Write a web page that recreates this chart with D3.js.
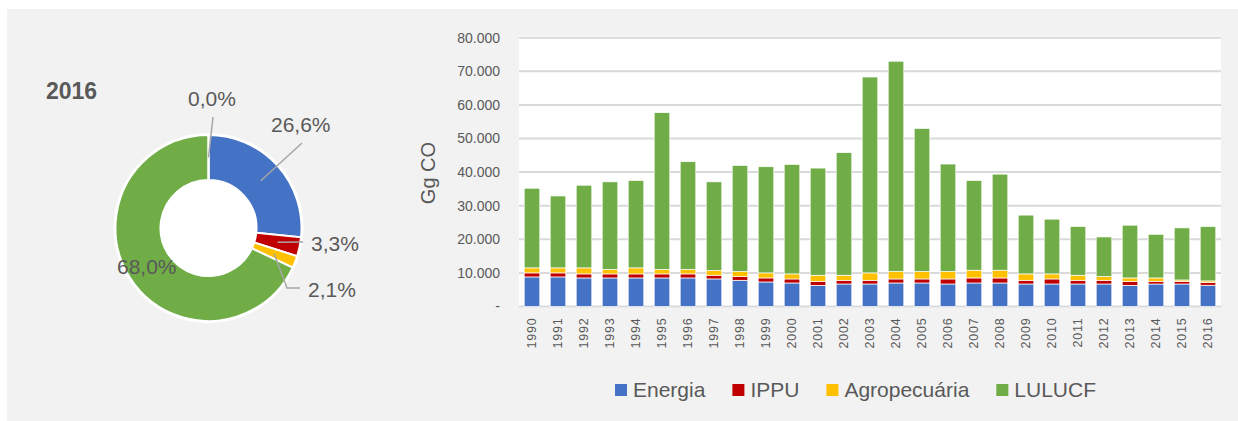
<!DOCTYPE html>
<meta charset="utf-8">
<style>
body { margin: 0; background: #fff; }
text { font-family: "Liberation Sans", Arial, sans-serif; fill: #595959; }
.grid line { stroke: #d9d9d9; stroke-width: 2px; }
.lead { fill: none; stroke: #a6a6a6; stroke-width: 1.5px; }
</style>
<body>
<script src="https://d3js.org/d3.v7.min.js"></script>
<script>

// emissions by sector, Gg CO
var years = ["1990","1991","1992","1993","1994","1995","1996","1997","1998","1999","2000","2001","2002","2003","2004","2005","2006","2007","2008","2009","2010","2011","2012","2013","2014","2015","2016"];
var energia = [8800,8800,8500,8500,8500,8500,8500,8200,7800,7300,7000,6300,6700,6700,7000,7000,6700,7000,7000,6700,6700,6700,6700,6300,6700,6700,6330];
var ippu    = [1200,1200,1200,1200,1200,1200,1200,1100,1100,1200,1200,1200,1100,1100,1200,1200,1500,1500,1500,1100,1500,1100,1100,1200,800,800,785];
var agro    = [1500,1500,1800,1300,1800,1300,1300,1400,1500,1500,1500,1800,1500,2200,2200,2200,2200,2300,2300,1900,1500,1500,1100,1000,1000,400,500];
var lulucf  = [23700,21400,24600,26100,26000,46700,32100,26400,31600,31600,32600,31900,36500,58300,62600,42600,32000,26700,28600,17500,16300,14500,11800,15700,13000,15500,16185];
var series  = ["Energia","IPPU","Agropecuária","LULUCF"];
var colors  = ["#4472c4","#c00000","#ffc000","#70ad47"];
var yTicks  = [0,10000,20000,30000,40000,50000,60000,70000,80000];

// donut for 2016 (%)
var pieNames  = ["Energia","IPPU","Agropecuária","LULUCF","Resíduos"];
var pieValues = [26.6,3.3,2.1,68.0,0.0];
var pieColors = ["#4472c4","#c00000","#ffc000","#70ad47","#a5a5a5"];

var W = 1238, H = 421;
var br = d3.formatLocale({decimal: ",", thousands: ".", grouping: [3], currency: ["R$", ""]});

var svg = d3.select("body").append("svg")
    .attr("width", W)
    .attr("height", H);

// grey panel
svg.append("rect")
    .attr("x", 7).attr("y", 9)
    .attr("width", W - 7).attr("height", H - 9)
    .attr("fill", "#f2f2f2");

// ---------- stacked bars ----------
var plot = {left: 519, right: 1221, top: 37.7, bottom: 306.5};

var x = d3.scaleBand()
    .domain(years)
    .range([plot.left, plot.right])
    .paddingInner(0.4)
    .paddingOuter(0.2);

var y = d3.scaleLinear()
    .domain([0, 80000])
    .range([plot.bottom, plot.top]);

svg.append("rect")
    .attr("x", plot.left).attr("y", plot.top - 2)
    .attr("width", plot.right - plot.left).attr("height", plot.bottom - plot.top + 3)
    .attr("fill", "#fff");

var grid = svg.append("g").attr("class", "grid");
grid.selectAll("line")
    .data(yTicks)
  .enter().append("line")
    .attr("x1", plot.left).attr("x2", plot.right)
    .attr("y1", function(d) { return y(d); })
    .attr("y2", function(d) { return y(d); });

var yAxis = d3.axisLeft(y)
    .tickValues(yTicks)
    .tickSize(0)
    .tickPadding(19)
    .tickFormat(function(d) { return d === 0 ? "-" : br.format(",")(d); });

svg.append("g")
    .attr("transform", "translate(" + plot.left + ",0)")
    .call(yAxis)
    .call(function(g) { g.select(".domain").remove(); })
    .selectAll("text")
    .style("font-size", "14px")
    .attr("fill", "#595959");

var rows = years.map(function(yr, i) {
  return {year: yr, Energia: energia[i], IPPU: ippu[i], "Agropecuária": agro[i], LULUCF: lulucf[i]};
});
var stack = d3.stack().keys(series)(rows);

svg.append("g").selectAll("g")
    .data(stack)
  .enter().append("g")
    .attr("fill", function(d, i) { return colors[i]; })
  .selectAll("rect")
    .data(function(d) { return d; })
  .enter().append("rect")
    .attr("x", function(d) { return x(d.data.year); })
    .attr("width", x.bandwidth())
    .attr("y", function(d) { return y(d[1]); })
    .attr("height", function(d) { return y(d[0]) - y(d[1]); })
    .attr("stroke", "#fff")
    .attr("stroke-width", 0.7);

// x labels, rotated
svg.append("g").selectAll("text")
    .data(years)
  .enter().append("text")
    .attr("transform", function(d) {
      return "translate(" + (x(d) + x.bandwidth() / 2) + "," + (plot.bottom + 11) + ") rotate(-90)";
    })
    .attr("text-anchor", "end")
    .attr("dy", "0.35em")
    .style("font-size", "12.5px")
    .style("letter-spacing", "0.8px")
    .text(function(d) { return d; });

// y title
svg.append("text")
    .attr("transform", "translate(435,173) rotate(-90)")
    .attr("text-anchor", "middle")
    .style("font-size", "20px")
    .text("Gg CO");

// legend
var legend = svg.append("g").attr("transform", "translate(0,397)");
var lx = 615;
series.forEach(function(s, i) {
  legend.append("rect")
      .attr("x", lx).attr("y", -13)
      .attr("width", 12).attr("height", 12)
      .attr("fill", colors[i]);
  var t = legend.append("text")
      .attr("x", lx + 18)
      .style("font-size", "21px")
      .text(s);
  lx += 18 + t.node().getComputedTextLength() + 27;
});

// ---------- donut ----------
var cx = 208.5, cy = 228, rIn = 48, rOut = 93;

svg.append("text")
    .attr("x", 46).attr("y", 99)
    .style("font-size", "23px")
    .style("font-weight", "bold")
    .text("2016");

var pie = d3.pie().sort(null).value(function(d) { return d; });
var arc = d3.arc().innerRadius(rIn).outerRadius(rOut);
var arcs = pie(pieValues);

var donut = svg.append("g").attr("transform", "translate(" + cx + "," + cy + ")");

donut.append("circle").attr("r", rOut + 2).attr("fill", "#fff");

donut.selectAll("path")
    .data(arcs)
  .enter().append("path")
    .attr("d", arc)
    .attr("fill", function(d, i) { return pieColors[i]; })
    .attr("stroke", "#fff")
    .attr("stroke-width", 2);

// label placement relative to the centre: text start + leader points
var labelPos = [
  {tx: 62.5, ty: -96, lead: [[93.5, -85]]},
  {tx: 102.5, ty: 23, lead: [[94.5, 14]]},
  {tx: 99.5, ty: 69, lead: [[78.5, 60], [91.5, 60]]},
  {tx: -91.5, ty: 46, lead: null},
  {tx: -20.5, ty: -122, lead: [[4.5, -111]]}
];

arcs.forEach(function(a, i) {
  var p = labelPos[i];
  if (p.lead) {
    var pts = [arc.centroid(a)].concat(p.lead);
    donut.append("path")
        .attr("class", "lead")
        .attr("d", d3.line()(pts));
  }
  donut.append("text")
      .attr("x", p.tx).attr("y", p.ty)
      .style("font-size", "21px")
      .text(br.format(".1f")(pieValues[i]) + "%");
});

</script>
</body>
